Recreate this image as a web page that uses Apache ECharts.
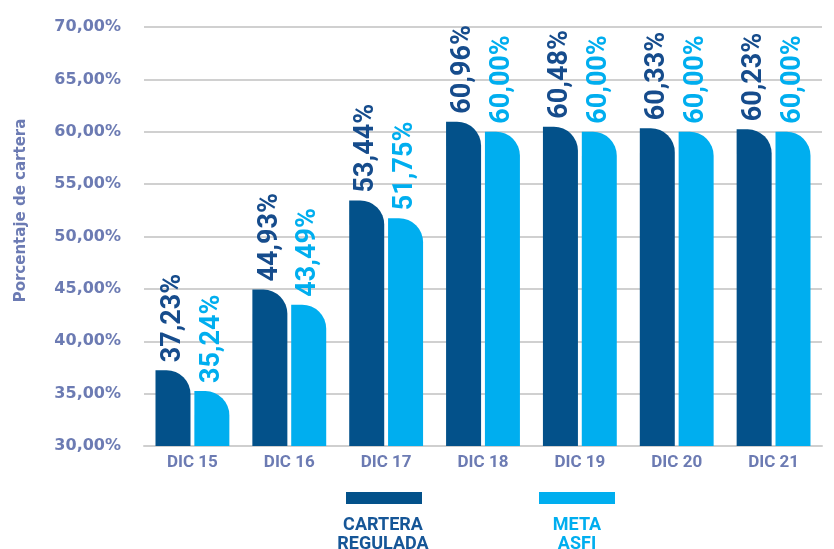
<!DOCTYPE html>
<html lang="es">
<head>
    <meta charset="UTF-8">
    <script src="https://cdn.jsdelivr.net/npm/echarts@6/dist/echarts.min.js"></script>
    <style>
        html, body { margin: 0; padding: 0; background: #fff; }
    </style>
</head>
<body>
    <div id="main" style="width: 834px; height: 549px;"></div>
    <script>
        var categories = ['DIC 15', 'DIC 16', 'DIC 17', 'DIC 18', 'DIC 19', 'DIC 20', 'DIC 21'];
        var carteraRegulada = [37.23, 44.93, 53.44, 60.96, 60.48, 60.33, 60.23];
        var metaAsfi = [35.24, 43.49, 51.75, 60.00, 60.00, 60.00, 60.00];

        var dark = '#03518a';
        var light = '#00aeef';
        var axisColor = '#6c7bb3';

        function pct(v) {
            return v.toFixed(2).replace('.', ',') + '%';
        }

        var chart = echarts.init(document.getElementById('main'));

        var barLabel = function (color) {
            return {
                show: true,
                position: 'top',
                rotate: 90,
                align: 'left',
                verticalAlign: 'middle',
                distance: 8,
                color: color,
                fontFamily: 'Roboto',
                fontWeight: 'bold',
                fontSize: 27,
                formatter: function (p) { return pct(p.value); }
            };
        };

        chart.setOption({
            animation: false,
            grid: { left: 144, top: 27, width: 678, height: 419 },
            legend: [{
                left: 341, top: 487,
                itemWidth: 76, itemHeight: 12,
                icon: 'rect',
                formatter: function () { return ''; },
                data: ['CARTERA REGULADA'],
                selectedMode: false
            }, {
                left: 534, top: 487,
                itemWidth: 76, itemHeight: 12,
                icon: 'rect',
                formatter: function () { return ''; },
                data: ['META ASFI'],
                selectedMode: false
            }],
            graphic: [{
                type: 'text', x: 383, y: 516,
                style: {
                    text: 'CARTERA\nREGULADA', fill: '#165697', align: 'center',
                    font: 'bold 18px Roboto', lineHeight: 19
                }
            }, {
                type: 'text', x: 577, y: 516,
                style: {
                    text: 'META\nASFI', fill: light, align: 'center',
                    font: 'bold 18px Roboto', lineHeight: 19
                }
            }],
            xAxis: {
                type: 'category',
                data: categories,
                axisLine: { lineStyle: { color: '#cfcfcf', width: 2 } },
                axisTick: { show: false },
                axisLabel: { color: axisColor, fontFamily: 'Roboto', fontWeight: 'bold', fontSize: 17, margin: 8 }
            },
            yAxis: {
                type: 'value',
                min: 30, max: 70, interval: 5,
                name: 'Porcentaje de cartera',
                nameLocation: 'middle',
                nameGap: 115,
                nameRotate: 90,
                nameTextStyle: {
                    color: axisColor, fontFamily: 'DejaVu Sans', fontWeight: 'bold', fontSize: 15,
                    padding: [0, 0, 0, 52]
                },
                axisLine: { show: false },
                axisTick: { show: false },
                splitLine: { lineStyle: { color: '#d0d0d0', width: 2 } },
                axisLabel: {
                    color: axisColor, fontFamily: 'DejaVu Sans', fontWeight: 'bold', fontSize: 16, margin: 23,
                    formatter: function (v) { return pct(v); }
                }
            },
            series: [{
                name: 'CARTERA REGULADA',
                type: 'bar',
                data: carteraRegulada,
                barWidth: 35,
                barGap: '11%',
                itemStyle: { color: dark, borderRadius: [0, 24, 0, 0] },
                label: barLabel('#164c8c')
            }, {
                name: 'META ASFI',
                type: 'bar',
                data: metaAsfi,
                barWidth: 35,
                itemStyle: { color: light, borderRadius: [0, 24, 0, 0] },
                label: barLabel(light)
            }]
        });
    </script>
</body>
</html>
